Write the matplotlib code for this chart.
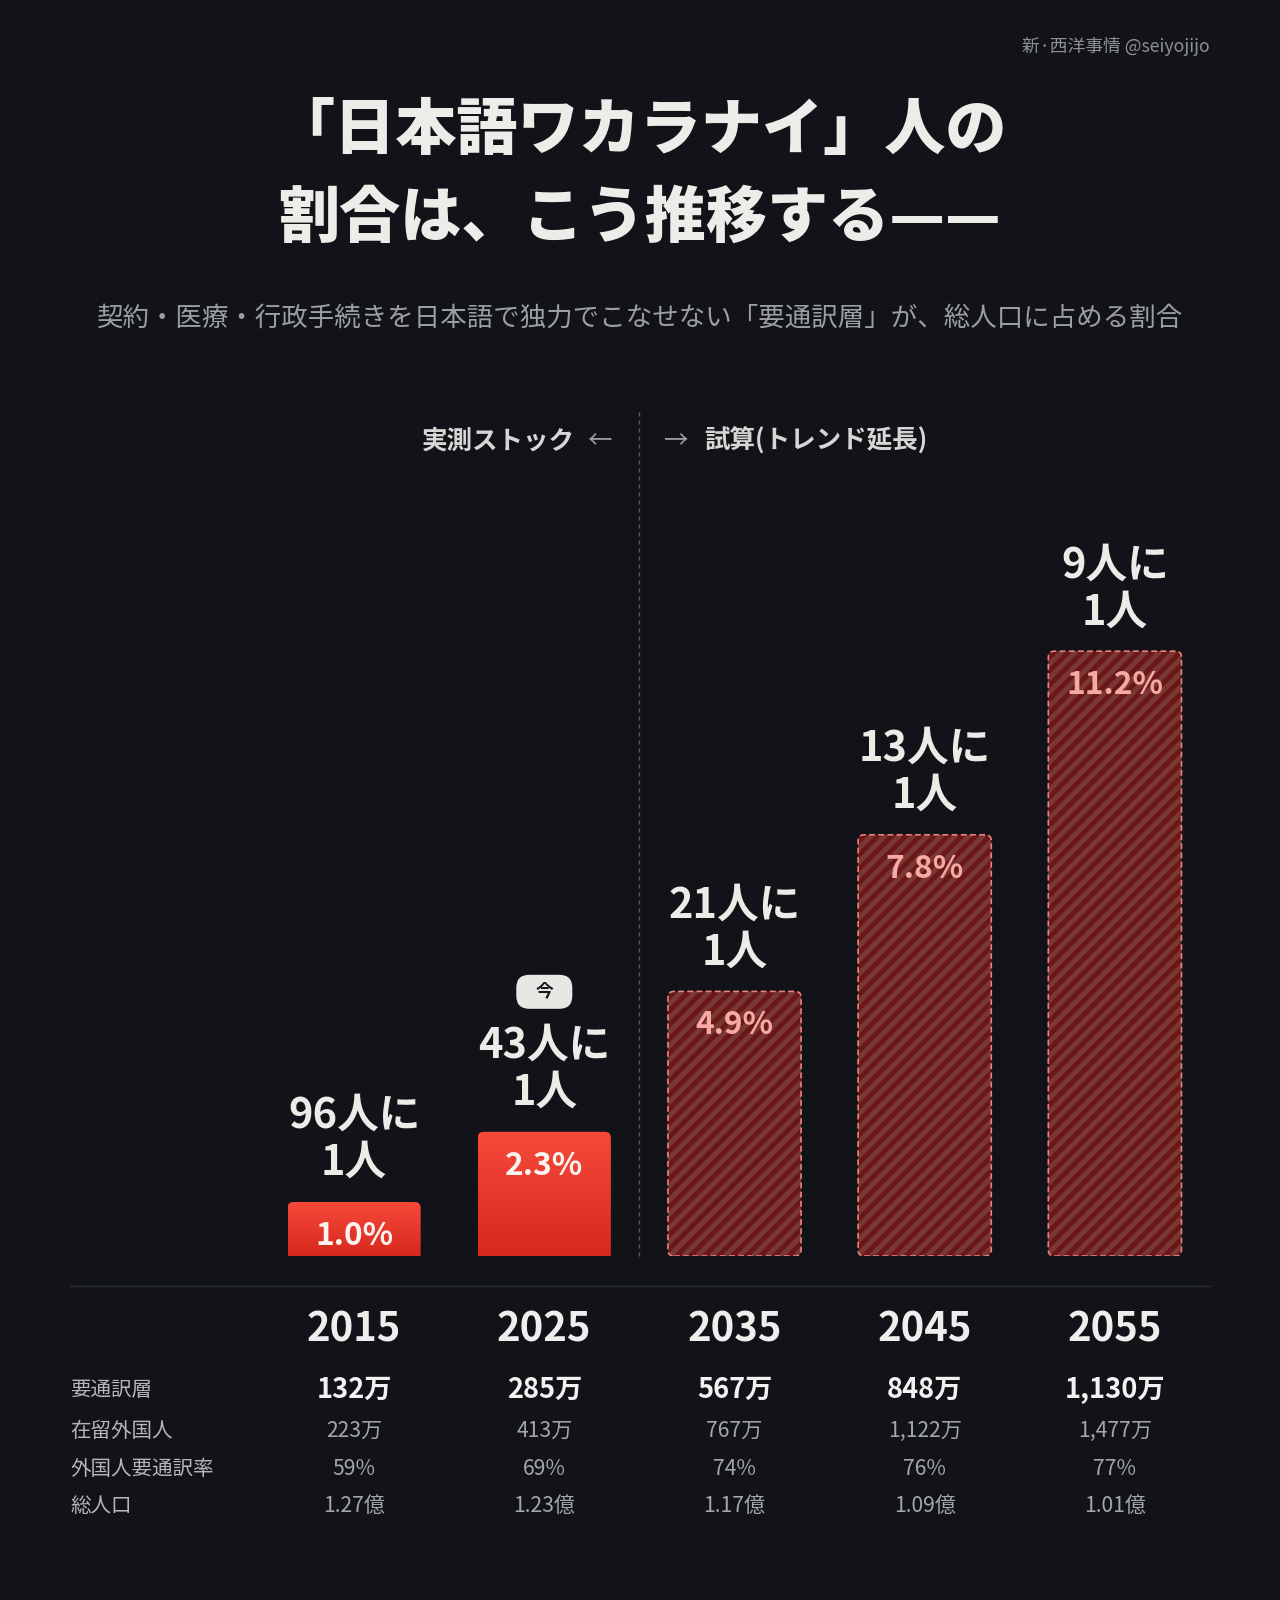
import matplotlib
matplotlib.use("Agg")
import matplotlib.pyplot as plt
import numpy as np
from matplotlib.patches import FancyBboxPatch
from matplotlib.collections import LineCollection
from matplotlib.colors import LinearSegmentedColormap
from matplotlib.transforms import blended_transform_factory

plt.rcParams['font.family'] = ['Noto Sans CJK JP', 'DejaVu Sans']

# data
years = ['2015', '2025', '2035', '2045', '2055']
share_pct = [1.0, 2.3, 4.9, 7.8, 11.2]
one_in = [96, 43, 21, 13, 9]
is_projection = [False, False, True, True, True]
row_labels = ['要通訳層', '在留外国人', '外国人要通訳率', '総人口']
need_interp = ['132万', '285万', '567万', '848万', '1,130万']
foreign_res = ['223万', '413万', '767万', '1,122万', '1,477万']
interp_rate = ['59%', '69%', '74%', '76%', '77%']
total_pop = ['1.27億', '1.23億', '1.17億', '1.09億', '1.01億']

BG = '#111318'
W, H, DPI = 1280, 1600, 80
fig = plt.figure(figsize=(W / DPI, H / DPI), dpi=DPI, facecolor=BG)

# full-figure pixel axes (y grows downward) for titles and the table
pix = fig.add_axes([0, 0, 1, 1])
pix.set_xlim(0, W)
pix.set_ylim(H, 0)
pix.axis('off')

# bar axes: baseline at y=1256px, 54px per percent
base_px, px_per_pct = 1256, 54
left_px, right_px = 259, 1210
ymax = 14
ax = fig.add_axes([left_px / W, (H - base_px) / H, (right_px - left_px) / W, ymax * px_per_pct / H])
ax.set_xlim(-0.5, 4.5)
ax.set_ylim(0, ymax)
ax.axis('off')

px_per_x = (right_px - left_px) / 5
bw = 0.70
rad = 6 / px_per_x
asp = px_per_x / px_per_pct
red_cmap = LinearSegmentedColormap.from_list('bar_red', ['#d7281d', '#f64a3b'])
grad = np.linspace(0, 1, 256).reshape(-1, 1)
box = f'round,pad=0,rounding_size={rad}'
stripe_step = 14 / px_per_x          # horizontal stripe period (14 px)
stripe_lw = 5.0 * 72 / DPI           # ~5 px wide stripes

for i, (v, proj) in enumerate(zip(share_pct, is_projection)):
    x0 = i - bw / 2
    if proj:
        body = FancyBboxPatch((x0, 0), bw, v, boxstyle=box, mutation_aspect=asp,
                              facecolor='#6b1719', edgecolor='none', zorder=2)
        ax.add_patch(body)
        # 45-degree stripes in screen space, clipped to the bar
        run = v * px_per_pct / px_per_x
        starts = np.arange(x0 - run, x0 + bw + stripe_step, stripe_step)
        segs = [[(s, 0), (s + run, v)] for s in starts]
        lc = LineCollection(segs, colors='#7a3835', linewidths=stripe_lw, zorder=2.5)
        ax.add_collection(lc)
        lc.set_clip_path(body)
        edge = FancyBboxPatch((x0, 0), bw, v, boxstyle=box, mutation_aspect=asp,
                              facecolor='none', edgecolor='#e8827c', linewidth=1.5,
                              linestyle=(0, (3.5, 2)), zorder=3)
        ax.add_patch(edge)
        pct_color = '#f6aaa3'
    else:
        shape = FancyBboxPatch((x0, -0.5), bw, v + 0.5, boxstyle=box, mutation_aspect=asp,
                               facecolor='none', edgecolor='none')
        ax.add_patch(shape)
        im = ax.imshow(grad, extent=(x0, x0 + bw, 0, v), origin='lower', cmap=red_cmap,
                       aspect='auto', zorder=2)
        im.set_clip_path(shape)
        pct_color = '#fbf3f0'

    ax.annotate(f'{v:.1f}%', (i, v), xytext=(0, -34), textcoords='offset pixels',
                ha='center', va='center', fontsize=28.5, fontweight='bold',
                color=pct_color, zorder=4)
    ax.annotate(f'{one_in[i]}人に', (i, v), xytext=(0, 86), textcoords='offset pixels',
                ha='center', va='center', fontsize=37.5, fontweight='bold', color='#ecebe8')
    ax.annotate('1人', (i, v), xytext=(0, 39), textcoords='offset pixels',
                ha='center', va='center', fontsize=37.5, fontweight='bold', color='#ecebe8')

ax.set_xlim(-0.5, 4.5)
ax.set_ylim(0, ymax)

# "今" badge above the 2025 bar
cx, top_y = ax.transData.transform((1, share_pct[1]))
badge_y = (H - top_y) - 140
pix.add_patch(FancyBboxPatch((cx - 28, badge_y - 17), 56, 34,
                             boxstyle='round,pad=0,rounding_size=13',
                             facecolor='#e9e7e3', edgecolor='none', zorder=3))
pix.text(cx, badge_y, '今', ha='center', va='center', fontsize=16,
         fontweight='bold', color='#15171c', zorder=4)

# divider between measured and projected
mix = blended_transform_factory(ax.transData, pix.transData)
pix.plot([1.5, 1.5], [412, base_px], transform=mix, color='#5a5f68',
         lw=1.2, linestyle=(0, (3, 3)))

pix.text(575, 441, '実測ストック', ha='right', va='center', fontsize=23,
         fontweight='bold', color='#d6d6d4')
pix.text(612, 441, '←', ha='right', va='center', fontsize=22, color='#9c9da0')
pix.text(663, 441, '→', ha='left', va='center', fontsize=22, color='#9c9da0')
pix.text(704, 441, '試算(トレンド延長)', ha='left', va='center', fontsize=23,
         fontweight='bold', color='#d6d6d4')

# titles
pix.text(1210, 46, '新·西洋事情 @seiyojijo', ha='right', va='center',
         fontsize=16, color='#8d9096')
pix.text(640, 131, '「日本語ワカラナイ」人の', ha='center', va='center',
         fontsize=55, fontweight='heavy', color='#eeece8')
pix.text(640, 219, '割合は、こう推移する——', ha='center', va='center',
         fontsize=55, fontweight='heavy', color='#eeece8')
pix.text(640, 318, '契約・医療・行政手続きを日本語で独力でこなせない「要通訳層」が、総人口に占める割合',
         ha='center', va='center', fontsize=23.8, color='#9b9ea4')

# table under the bars
pix.plot([70, 1210], [1286, 1286], color='#2c3038', lw=1.3)
for i, yr in enumerate(years):
    pix.text(i, 1330, yr, transform=mix, ha='center', va='center',
             fontsize=36, fontweight='bold', color='#eeeeec')

row_y = [1390, 1431, 1469, 1506]
rows = [need_interp, foreign_res, interp_rate, total_pop]
for r, (lab, vals, y) in enumerate(zip(row_labels, rows, row_y)):
    pix.text(70, y, lab, ha='left', va='center', fontsize=18.5, color='#b4b6ba')
    for i, s in enumerate(vals):
        if r == 0:
            pix.text(i, y, s, transform=mix, ha='center', va='center',
                     fontsize=24.5, fontweight='bold', color='#f2f2f0')
        else:
            pix.text(i, y, s, transform=mix, ha='center', va='center',
                     fontsize=19, color='#a3a6ab')

fig.savefig('out.png', dpi=DPI, facecolor=BG)
